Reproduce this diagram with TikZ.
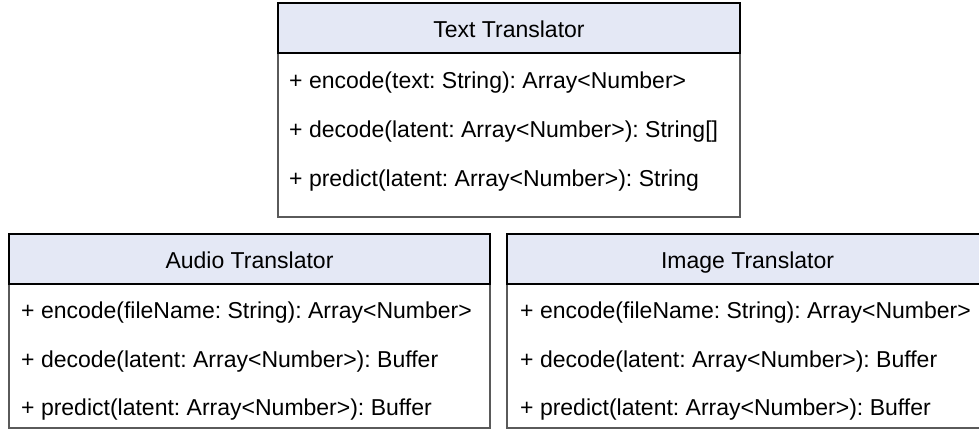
\documentclass[tikz,border=0pt]{standalone}
\usepackage{fontspec}
\setmainfont{Liberation Sans}
\frenchspacing
\definecolor{hdrfill}{HTML}{E4E8F5}
\definecolor{bodyline}{HTML}{5A5A5A}
\newcommand{\umlfont}{\fontsize{23}{27.6}\selectfont}
\tikzset{
  bodybox/.style={draw=bodyline, line width=1.5pt, fill=white, inner sep=0pt},
  headbox/.style={draw=black, line width=2pt, fill=hdrfill, inner sep=0pt, minimum height=50pt},
  classtitle/.style={anchor=base, inner sep=0pt, font=\umlfont, text=black},
  member/.style={anchor=base west, inner sep=0pt, font=\umlfont, text=black},
}
\begin{document}
\begin{tikzpicture}[x=1pt, y=-1pt]
  \useasboundingbox (0,0) rectangle (979,447);
  \clip (0,0) rectangle (979,447);

  % Text Translator
  \node[bodybox, minimum width=462pt, minimum height=164pt] (textBody) at (509,135) {};
  \node[headbox, minimum width=462pt] (textHead) at (509,28) {};
  \node[classtitle] (textTitle) at (509,37) {Text Translator};
  \node[member] (textEnc) at (289,88)  {+ encode(text: String): Array<Number>};
  \node[member] (textDec) at (289,137) {+ decode(latent: Array<Number>): String[]};
  \node[member] (textPre) at (289,186) {+ predict(latent: Array<Number>): String};

  % Audio Translator
  \node[bodybox, minimum width=481pt, minimum height=144pt] (audioBody) at (249.5,356) {};
  \node[headbox, minimum width=481pt] (audioHead) at (249.5,259) {};
  \node[classtitle] (audioTitle) at (249.5,268) {Audio Translator};
  \node[member] (audioEnc) at (21,318) {+ encode(fileName: String): Array<Number>};
  \node[member] (audioDec) at (21,367) {+ decode(latent: Array<Number>): Buffer};
  \node[member] (audioPre) at (21,415) {+ predict(latent: Array<Number>): Buffer};

  % Image Translator
  \node[bodybox, minimum width=481pt, minimum height=144pt] (imageBody) at (747.5,356) {};
  \node[headbox, minimum width=481pt] (imageHead) at (747.5,259) {};
  \node[classtitle] (imageTitle) at (747.5,268) {Image Translator};
  \node[member] (imageEnc) at (520,318) {+ encode(fileName: String): Array<Number>};
  \node[member] (imageDec) at (520,367) {+ decode(latent: Array<Number>): Buffer};
  \node[member] (imagePre) at (520,415) {+ predict(latent: Array<Number>): Buffer};
\end{tikzpicture}
\end{document}
